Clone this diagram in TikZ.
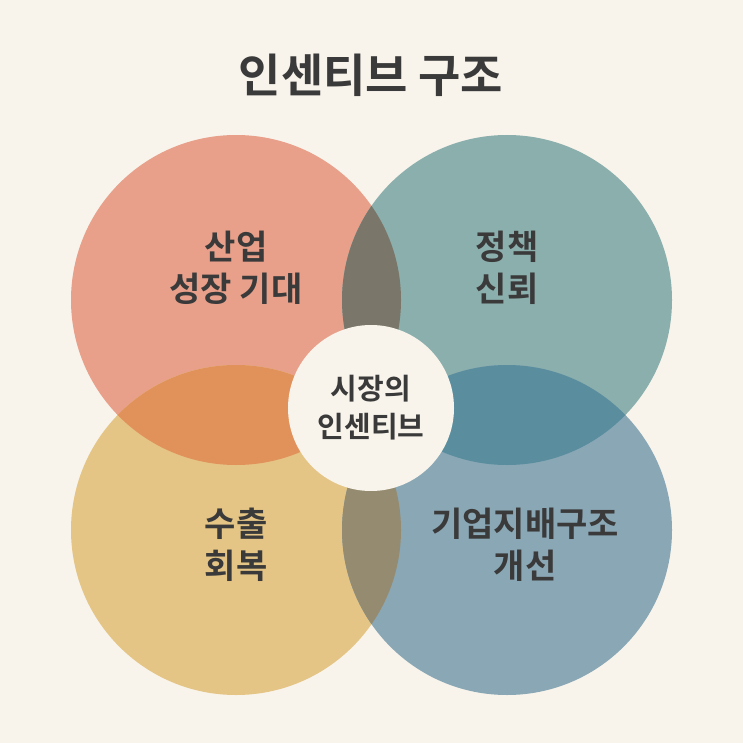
\documentclass[tikz,border=0pt]{standalone}
\usepackage{fontspec}
\newfontfamily\kr{Noto Sans CJK KR Bold}
\definecolor{bg}{HTML}{F8F4EC}
\definecolor{cTL}{HTML}{E8A08A}
\definecolor{cTR}{HTML}{8BAFAD}
\definecolor{cBL}{HTML}{E5C585}
\definecolor{cBR}{HTML}{8AA7B5}
\definecolor{oT}{HTML}{7A7669}
\definecolor{oL}{HTML}{E0925A}
\definecolor{oR}{HTML}{5A8E9E}
\definecolor{oB}{HTML}{958B70}
\definecolor{txt}{HTML}{3A3A3A}
\begin{document}
\begin{tikzpicture}[x=1pt,y=-1pt,
  lbl/.style={font=\kr\fontsize{34}{42}\selectfont, text=txt, align=center}]
\fill[bg] (0,0) rectangle (743,743);
\useasboundingbox (0,0) rectangle (743,743);
\def\r{165}
\coordinate (tl) at (236,300);
\coordinate (tr) at (507,300);
\coordinate (bl) at (236,530);
\coordinate (br) at (507,530);
\fill[cTL] (tl) circle (\r);
\fill[cTR] (tr) circle (\r);
\fill[cBL] (bl) circle (\r);
\fill[cBR] (br) circle (\r);
\begin{scope}\clip (tl) circle (\r); \fill[oT] (tr) circle (\r); \fill[oL] (bl) circle (\r);\end{scope}
\begin{scope}\clip (br) circle (\r); \fill[oR] (tr) circle (\r); \fill[oB] (bl) circle (\r);\end{scope}
\node[circle, fill=bg, minimum size=166pt, inner sep=0pt] (c) at (371,408) {};
\node[lbl, font=\kr\fontsize{29}{38}\selectfont] (ct) at (c) {시장의\\인센티브};
\node[lbl, font=\kr\fontsize{46}{50}\selectfont] (title) at (371,75) {인센티브 구조};
\node[lbl] (a) at (236,268) {산업\\성장 기대};
\node[lbl] (b) at (507,268) {정책\\신뢰};
\node[lbl] (d) at (236,545) {수출\\회복};
\node[lbl] (e) at (525,545) {기업지배구조\\개선};
\end{tikzpicture}
\end{document}
